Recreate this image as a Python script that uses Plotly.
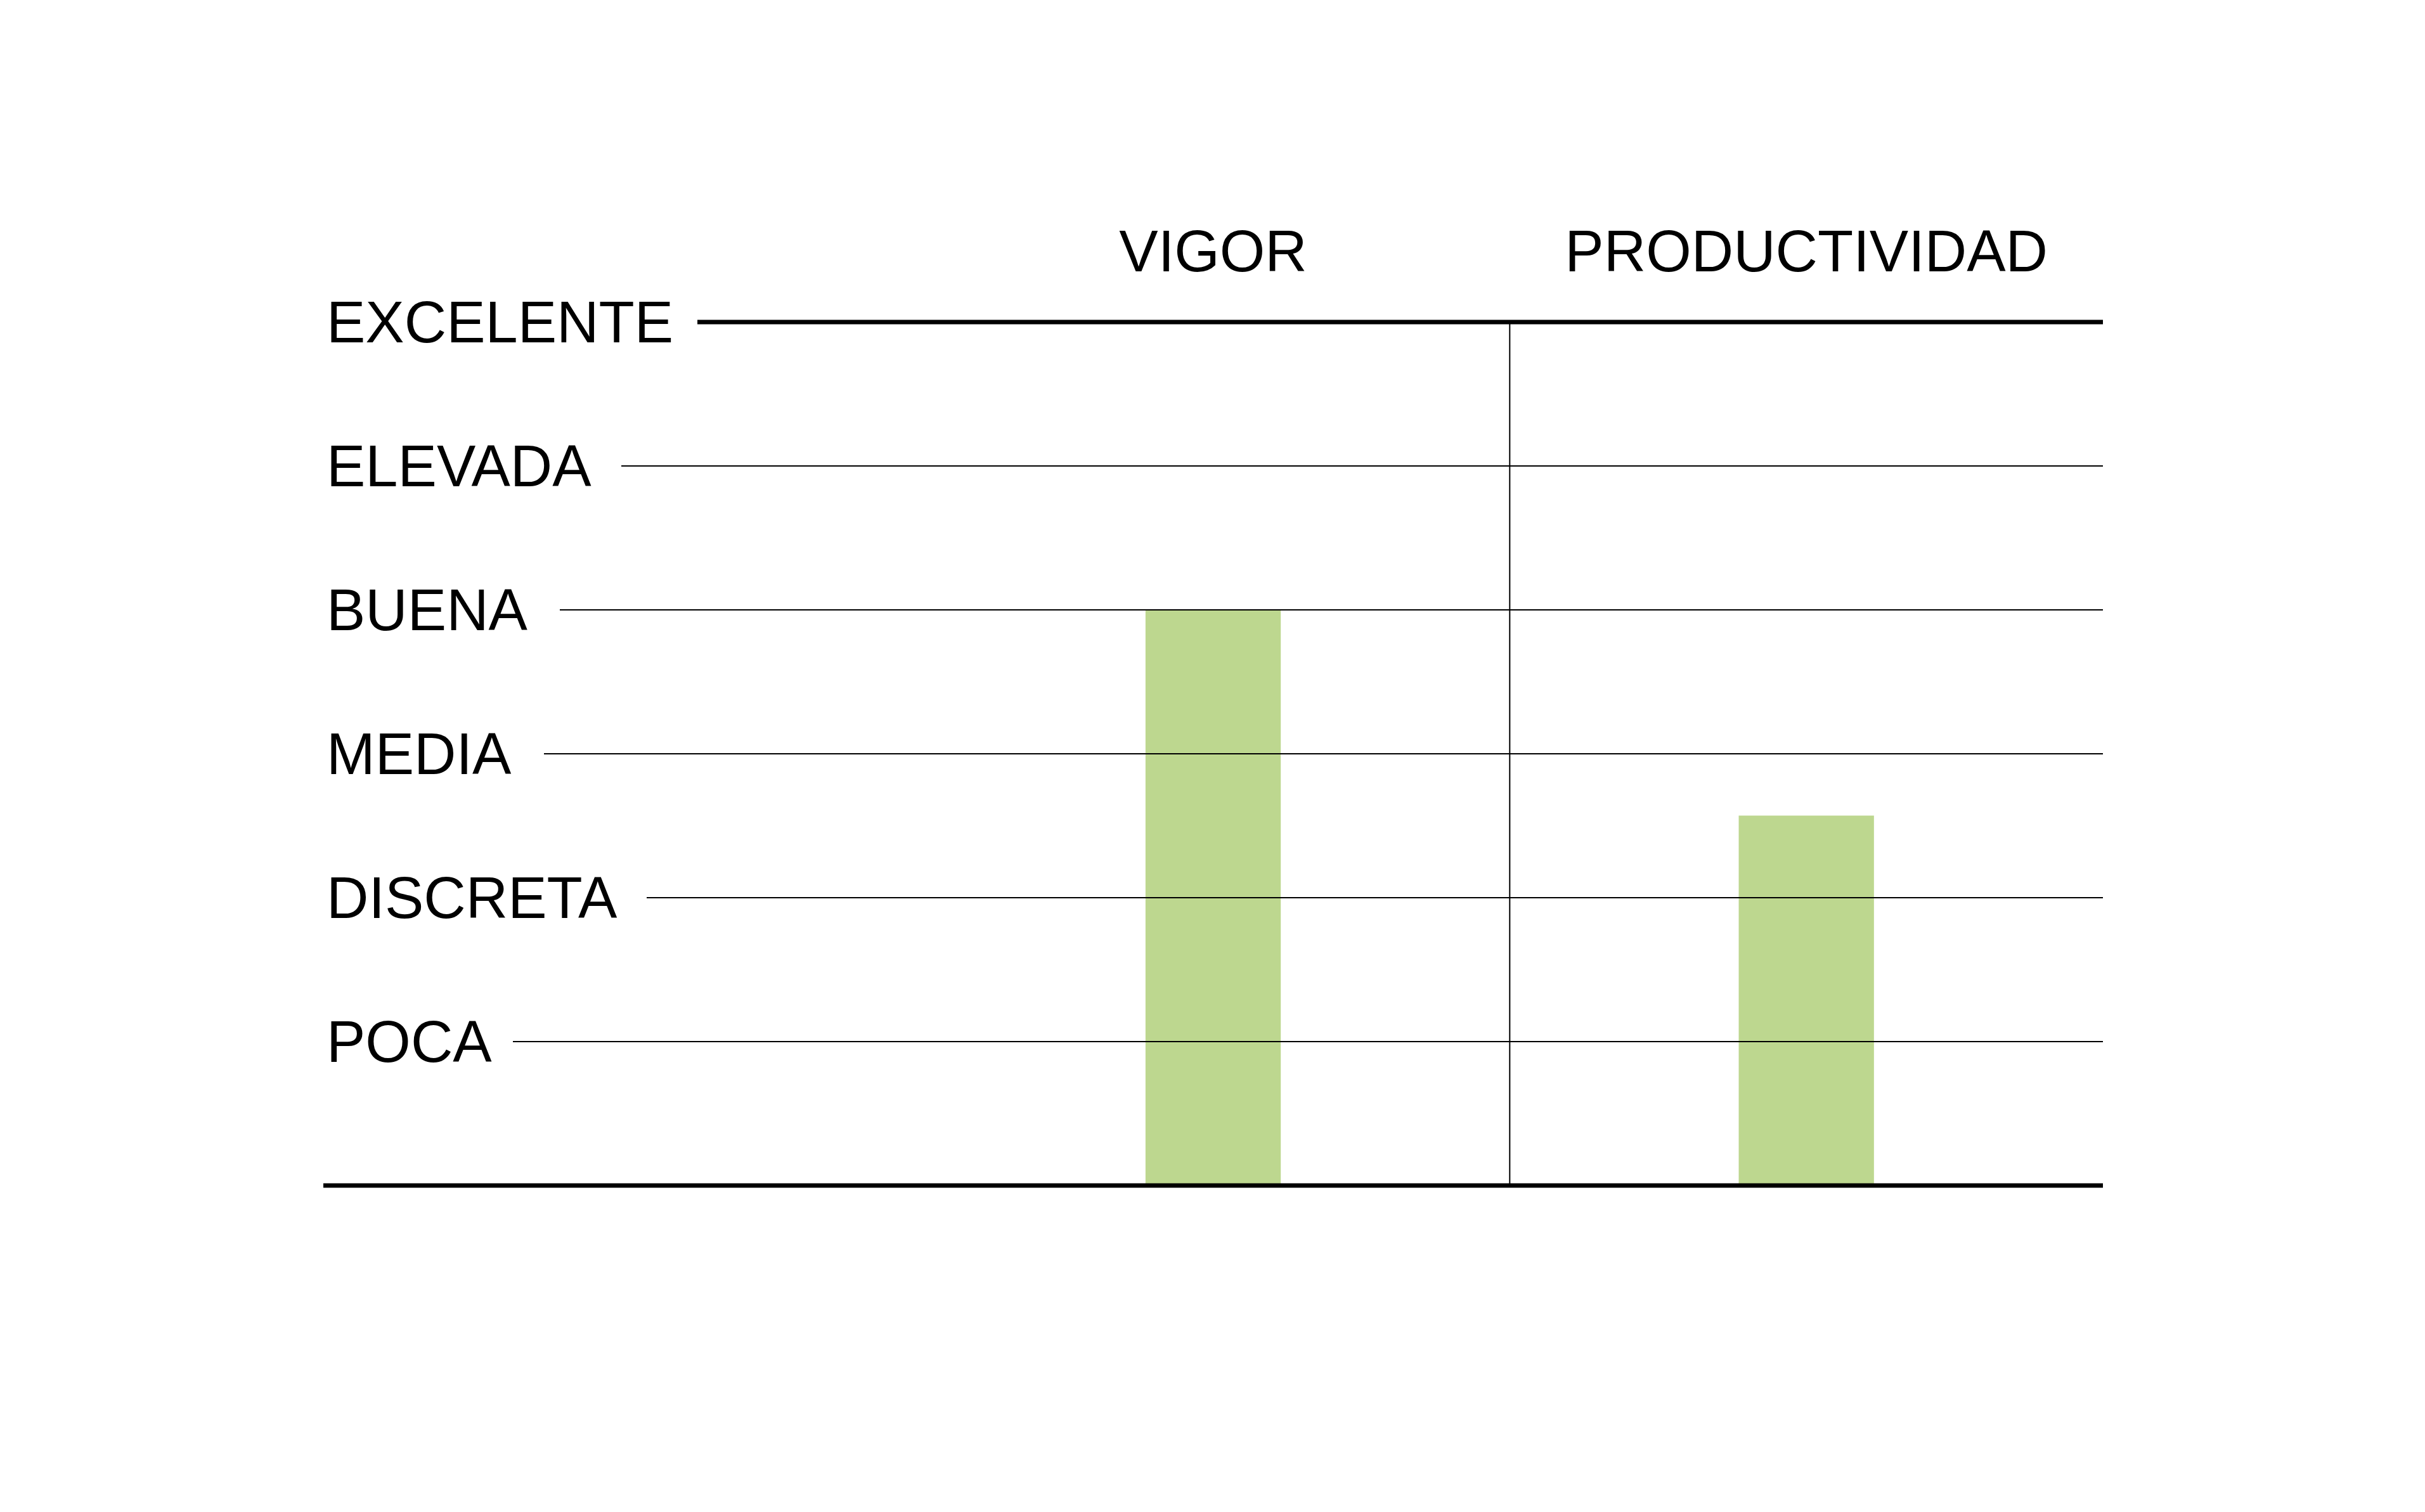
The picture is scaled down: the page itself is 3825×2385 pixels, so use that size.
import plotly.graph_objects as go

# categories and values (0 = none, 6 = EXCELENTE)
categories = ["VIGOR", "PRODUCTIVIDAD"]
ratings = [4, 2.57]

level_names = ["POCA", "DISCRETA", "MEDIA", "BUENA", "ELEVADA", "EXCELENTE"]
level_values = [1, 2, 3, 4, 5, 6]

# layout (pixels in the 3825 x 2385 page)
W, H = 3825, 2385
BODY_MARGIN = 8  # default browser margin round the plot div
PLOT_L, PLOT_R, PLOT_T, PLOT_B = 510, 3317, 508, 1870
# where each rule line starts, just after its label
grid_start_px = [809, 1020, 858, 883, 980, 1100]

FONT = "Liberation Sans"
BAR_GREEN = "#BDD78F"
Y_MIN, Y_MAX = 0, 6


def px_to_paper(px):
    return (px - PLOT_L) / (PLOT_R - PLOT_L)


def y_to_paper(v):
    # paper refs so the thick edge rules are not clipped by the plot area
    return (v - Y_MIN) / (Y_MAX - Y_MIN)


fig = go.Figure()
fig.add_bar(
    x=categories,
    y=ratings,
    width=0.228,
    marker=dict(color=BAR_GREEN, line=dict(width=0)),
    hoverinfo="skip",
)

shapes = []
annotations = []
for name, val, start in zip(level_names, level_values, grid_start_px):
    top = val == max(level_values)
    shapes.append(dict(
        type="line", xref="paper", yref="paper",
        x0=px_to_paper(start), x1=1, y0=y_to_paper(val), y1=y_to_paper(val),
        line=dict(color="black", width=7 if top else 2),
    ))
    annotations.append(dict(
        text=name, xref="paper", yref="y",
        x=px_to_paper(514), y=val, xanchor="left", yanchor="middle",
        showarrow=False, font=dict(family=FONT, size=92, color="black"),
        borderpad=0,
    ))

# baseline
shapes.append(dict(
    type="line", xref="paper", yref="paper", x0=0, x1=1,
    y0=y_to_paper(0), y1=y_to_paper(0),
    line=dict(color="black", width=7),
))
# divider between the two columns
shapes.append(dict(
    type="line", xref="x", yref="y", x0=0.5, x1=0.5, y0=0, y1=max(level_values),
    line=dict(color="black", width=2),
))

fig.update_layout(
    width=W - 2 * BODY_MARGIN,
    height=H - 2 * BODY_MARGIN,
    margin=dict(
        l=PLOT_L - BODY_MARGIN,
        r=W - PLOT_R - BODY_MARGIN,
        t=PLOT_T - BODY_MARGIN,
        b=H - PLOT_B - BODY_MARGIN,
        pad=0,
    ),
    paper_bgcolor="white",
    plot_bgcolor="white",
    showlegend=False,
    shapes=shapes,
    annotations=annotations,
    xaxis=dict(
        type="category",
        range=[-1.5, 1.5],
        side="top",
        ticks="",
        showgrid=False,
        zeroline=False,
        showline=False,
        tickfont=dict(family=FONT, size=92, color="black"),
        ticklabelstandoff=61,
    ),
    yaxis=dict(
        range=[Y_MIN, Y_MAX],
        showgrid=False,
        zeroline=False,
        showline=False,
        showticklabels=False,
        ticks="",
    ),
)

fig.write_html("out.html")
